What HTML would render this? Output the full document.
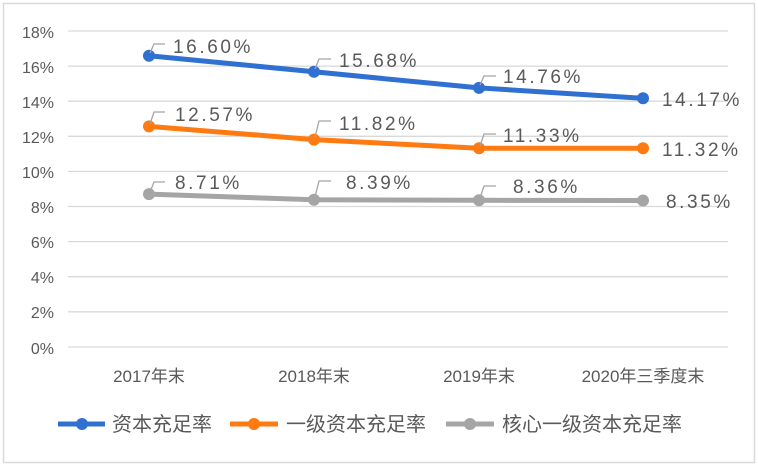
<!DOCTYPE html>
<html><head><meta charset="utf-8"><style>
body{margin:0;background:#fff;}
text{font-family:"Liberation Sans","Noto Sans CJK SC",sans-serif;fill:#595959;}
</style></head><body>
<svg width="758" height="466" xmlns="http://www.w3.org/2000/svg">
<rect x="3.5" y="3.5" width="751" height="459" fill="#fff" stroke="#d9d9d9" stroke-width="1.5"/>
<g stroke="#d9d9d9" stroke-width="1.3">
<line x1="68" x2="728" y1="31" y2="31"/><line x1="68" x2="728" y1="66.1" y2="66.1"/>
<line x1="68" x2="728" y1="101.2" y2="101.2"/><line x1="68" x2="728" y1="136.3" y2="136.3"/>
<line x1="68" x2="728" y1="171.4" y2="171.4"/><line x1="68" x2="728" y1="206.5" y2="206.5"/>
<line x1="68" x2="728" y1="241.6" y2="241.6"/><line x1="68" x2="728" y1="276.7" y2="276.7"/>
<line x1="68" x2="728" y1="311.8" y2="311.8"/><line x1="68" x2="728" y1="347" y2="347"/>
</g>
<g font-size="16" text-anchor="end">
<text x="54" y="38">18%</text><text x="54" y="73">16%</text><text x="54" y="108">14%</text>
<text x="54" y="143">12%</text><text x="54" y="178">10%</text><text x="54" y="213">8%</text>
<text x="54" y="248">6%</text><text x="54" y="283">4%</text><text x="54" y="318">2%</text>
<text x="54" y="354">0%</text>
</g>
<g font-size="17" text-anchor="middle">
<text x="149" y="382">2017年末</text><text x="314" y="382">2018年末</text>
<text x="479" y="382">2019年末</text><text x="643" y="382">2020年三季度末</text>
</g>
<g stroke-width="5" fill="none" stroke-linejoin="round">
<polyline stroke="#3070d0" points="149,55.7 314,71.8 479,87.9 643,98.3"/>
<polyline stroke="#ff7a10" points="149,126.4 314,139.6 479,148.2 643,148.3"/>
<polyline stroke="#a5a5a5" points="149,194.1 314,199.8 479,200.3 643,200.5"/>
</g>
<g fill="#3070d0"><circle cx="149" cy="55.7" r="6"/><circle cx="314" cy="71.8" r="6"/><circle cx="479" cy="87.9" r="6"/><circle cx="643" cy="98.3" r="6"/></g>
<g fill="#ff7a10"><circle cx="149" cy="126.4" r="6"/><circle cx="314" cy="139.6" r="6"/><circle cx="479" cy="148.2" r="6"/><circle cx="643" cy="148.3" r="6"/></g>
<g fill="#a5a5a5"><circle cx="149" cy="194.1" r="6"/><circle cx="314" cy="199.8" r="6"/><circle cx="479" cy="200.3" r="6"/><circle cx="643" cy="200.5" r="6"/></g>
<g stroke="#a5a5a5" stroke-width="1.3" fill="none">
<polyline points="150,53 154,44 165,44"/><polyline points="315,69 319,59 331,59"/><polyline points="480,85 484,76 496,76"/>
<polyline points="150,124 154,112 165,112"/><polyline points="315,137 319,121 331,121"/><polyline points="480,146 484,134 496,134"/>
<polyline points="150,192 154,182 165,182"/><polyline points="315,197 319,181 331,181"/><polyline points="480,198 484,186 496,186"/>
</g>
<g font-size="19" letter-spacing="2.6" style="fill:#404040">
<text x="173" y="53">16.60%</text><text x="339" y="67">15.68%</text><text x="503" y="83">14.76%</text><text x="662" y="106">14.17%</text>
<text x="175" y="121">12.57%</text><text x="339" y="130">11.82%</text><text x="503" y="142">11.33%</text><text x="662" y="156">11.32%</text>
<text x="175" y="189">8.71%</text><text x="346" y="189">8.39%</text><text x="513" y="193">8.36%</text><text x="666" y="208">8.35%</text>
</g>
<g stroke-width="5">
<line x1="58" x2="105" y1="424" y2="424" stroke="#3070d0"/><circle cx="82" cy="424" r="6" fill="#3070d0"/>
<line x1="230" x2="278" y1="424" y2="424" stroke="#ff7a10"/><circle cx="254" cy="424" r="6" fill="#ff7a10"/>
<line x1="446" x2="494" y1="424" y2="424" stroke="#a5a5a5"/><circle cx="470" cy="424" r="6" fill="#a5a5a5"/>
</g>
<g font-size="20">
<text x="112" y="431">资本充足率</text><text x="286" y="431">一级资本充足率</text><text x="502" y="431">核心一级资本充足率</text>
</g>
</svg>
</body></html>
